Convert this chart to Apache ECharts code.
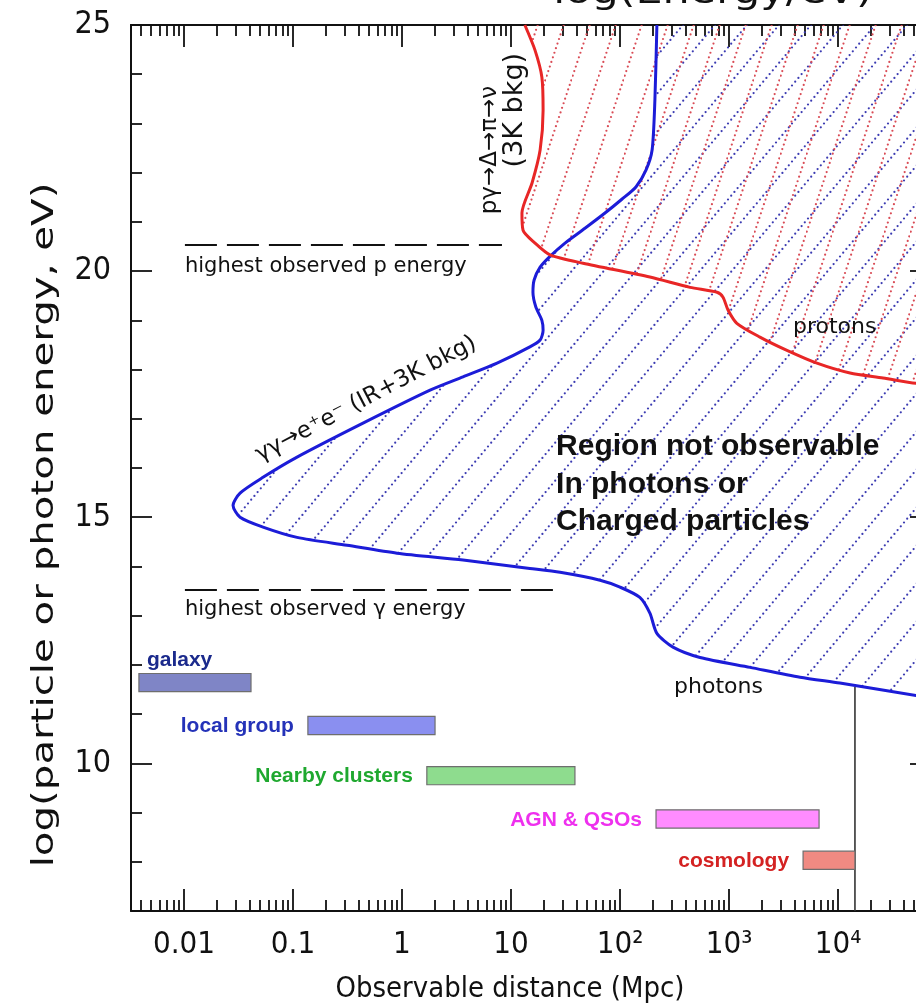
<!DOCTYPE html>
<html>
<head>
<meta charset="utf-8">
<title>Observable distance of photons and protons</title>
<script src="https://cdn.jsdelivr.net/npm/echarts@6.0.0/dist/echarts.min.js"></script>
<style>
  html, body { margin: 0; padding: 0; background: #fff; }
  #chart { width: 916px; height: 1007px; }
</style>
</head>
<body>
<div id="chart"></div>
<script>
// ---- data -----------------------------------------------------------------
// Photon horizon (γγ → e+e− on IR + 3K background): distance in Mpc, log10(E/eV)
const photonDist = [218, 209, 197, 173, 140, 104, 72.8, 47.7, 31.3, 22.8,
  18.5, 16.3, 15.9, 16.9, 19.2, 19.7, 18.5, 14.9, 7.45, 3.63,
  1.81, 0.439, 0.109, 0.0531, 0.0327, 0.0282, 0.0327, 0.0531, 0.109, 0.313,
  0.90, 3.63, 14.9, 28.2, 65.6, 100, 152, 188, 218, 306,
  542, 1560, 4480, 10400, 52000, 90000];
const photonLogE = [25, 23.48, 22.46, 22.05, 21.71, 21.46, 21.18, 20.87, 20.57, 20.30,
  20.08, 19.82, 19.57, 19.27, 19.0, 18.8, 18.6, 18.46, 18.13, 17.85,
  17.58, 16.91, 16.22, 15.81, 15.49, 15.24, 15.0, 14.8, 14.59, 14.43,
  14.27, 14.13, 13.96, 13.88, 13.72, 13.58, 13.37, 13.05, 12.64, 12.36,
  12.15, 11.95, 11.75, 11.63, 11.38, 11.3];

// Proton horizon (pγ → Δ → π → ν on the 3K background)
const protonDist = [13.4, 16.6, 19.2, 19.7, 18.5, 15.6, 12.6, 12.9, 16.6, 22.8,
  45.8, 188, 439, 776, 881, 979, 1180, 1920, 3400, 6410,
  12900, 25900, 52000, 90000];
const protonLogE = [25, 24.49, 23.94, 23.27, 22.46, 21.79, 21.18, 20.83, 20.57, 20.33,
  20.16, 19.88, 19.67, 19.57, 19.47, 19.21, 18.94, 18.66, 18.39, 18.13,
  17.93, 17.83, 17.72, 17.68];

// Scale of source classes (Mpc) and the energy row each bar sits on
const sourceNames = ['galaxy', 'local group', 'Nearby clusters', 'AGN & QSOs', 'cosmology'];
const sourceFrom = [0.00386, 0.137, 1.69, 214, 4780];
const sourceTo = [0.0412, 2.01, 38.6, 6700, 14300];
const sourceLogE = [11.64, 10.77, 9.75, 8.87, 8.03];

// Highest observed energies, with the distance span of their dashed markers
const protonMaxLogE = 20.53;
const protonMaxSpan = [0.0102, 8.26];
const gammaMaxLogE = 13.52;
const gammaMaxSpan = [0.0102, 25.4];

// Size of the observable universe and where that marker meets the photon curve
const horizonDist = 14300;
const horizonLogE = [7, 11.55];

// Axis ticks and labels
const xTickValues = [0.01, 0.1, 1, 10, 100, 1000, 10000];
const xTickLabels = ['0.01', '0.1', '1', '10', '10²', '10³', '10⁴'];
const yTickValues = [10, 15, 20, 25];
const yTickLabels = ['10', '15', '20', '25'];

// ---- styles ---------------------------------------------------------------
const sourceFill = ['#7f85c6', '#8a8ff0', '#8edc8e', '#ff8cff', '#f08a82'];
const sourceText = ['#1b2a8c', '#2432b8', '#1fa82f', '#ee30ee', '#d42222'];
const INK = '#111';
const PLAIN = '"DejaVu Sans", "Liberation Sans", sans-serif';
const BOLD = '"Liberation Sans", Arial, sans-serif';

// Free text annotations placed at (distance Mpc, log10 E)
const notes = [
  { text: 'highest observed p energy', at: [0.0102, 20.10], size: 21 },
  { text: 'highest observed γ energy', at: [0.0102, 13.13], size: 21 },
  { text: 'pγ→Δ→π→ν', at: [6.41, 22.46], size: 23, rotate: 90, align: 'center' },
  { text: '(3K bkg)', at: [10.9, 23.27], size: 27, rotate: 90, align: 'center' },
  { text: 'γγ→e⁺e⁻ (IR+3K bkg)', at: [0.468, 17.40], size: 23, rotate: 27.7, align: 'center' },
  { text: 'Region not observable\nIn photons or\nCharged particles', at: [25.9, 15.67],
    size: 30, bold: true, lineHeight: 37.5 },
  { text: 'protons', at: [3860, 18.86], size: 22 },
  { text: 'photons', at: [313, 11.54], size: 22 }
];

// ---- helpers --------------------------------------------------------------
const lg = Math.log10;
const X_MIN = -2.486, X_MAX = 4.853, Y_MIN = 7, Y_MAX = 25;

const xMinorValues = [];
for (let e = -3; e <= 4; e++) {
  for (let k = 2; k <= 9; k++) {
    const v = lg(k) + e;
    if (v > X_MIN && v < X_MAX) xMinorValues.push(v);
  }
}
const yMinorValues = [];
for (let v = Y_MIN + 1; v < Y_MAX; v++) if (v % 5) yMinorValues.push(v);

// Tile holding one dotted diagonal; repeated, it gives evenly spaced dotted hatching
function dottedDiagonal(w, h, n, color, r) {
  const c = document.createElement('canvas');
  c.width = w; c.height = h;
  const ctx = c.getContext('2d');
  ctx.fillStyle = color;
  for (let i = 0; i < n; i++) {
    const t = (i + 0.5) / n;
    ctx.beginPath();
    ctx.arc(t * w, h - t * h, r, 0, Math.PI * 2);
    ctx.fill();
  }
  return c;
}
const blueHatch = { image: dottedDiagonal(32, 38, 10, '#3b3bb2', 1.1), repeat: 'repeat' };
const redHatch = { image: dottedDiagonal(26, 78, 17, '#d94b55', 1.1), repeat: 'repeat' };

// Region beyond a horizon curve, closed along the right and top edges of the plot
function hatchRegion(dist, logE, fill) {
  return function (params, api) {
    const pts = dist.map((d, i) => api.coord([lg(d), logE[i]]));
    const cs = params.coordSys;
    const first = pts[0], last = pts[pts.length - 1];
    const right = cs.x + cs.width + 60, top = cs.y - 60;
    pts.push([right, last[1]], [right, top], [first[0], top]);
    return {
      type: 'polygon', silent: true,
      shape: { points: pts, smooth: 0.25 },
      style: { fill: fill, stroke: null }
    };
  };
}

function pairs(dist, logE) {
  return dist.map((d, i) => [lg(d), logE[i]]);
}

function xAxisDef(position, ticks, len, labels) {
  return {
    type: 'value', position: position, min: X_MIN, max: X_MAX,
    axisLine: { show: !!labels || position === 'top', onZero: false, lineStyle: { color: INK, width: 2 } },
    axisTick: { show: true, inside: true, length: len, customValues: ticks,
      lineStyle: { color: INK, width: 1.8 } },
    axisLabel: labels ? {
      show: true, customValues: xTickValues.map(lg), margin: 18,
      color: INK, fontSize: 31, fontFamily: '"DejaVu Sans Condensed", "DejaVu Sans", sans-serif',
      formatter: function (v) {
        const i = xTickValues.findIndex(t => Math.abs(lg(t) - v) < 1e-6);
        return i >= 0 ? xTickLabels[i] : '';
      }
    } : { show: false },
    splitLine: { show: false }
  };
}

function yAxisDef(position, ticks, len, labels) {
  return {
    type: 'value', position: position, min: Y_MIN, max: Y_MAX,
    axisLine: { show: !!labels || position === 'right', onZero: false, lineStyle: { color: INK, width: 2 } },
    axisTick: { show: true, inside: true, length: len, customValues: ticks,
      lineStyle: { color: INK, width: 1.8 } },
    axisLabel: labels ? {
      show: true, customValues: yTickValues, margin: 20,
      color: INK, fontSize: 32, fontFamily: '"DejaVu Sans Condensed", "DejaVu Sans", sans-serif',
      formatter: function (v) {
        const i = yTickValues.indexOf(v);
        return i >= 0 ? yTickLabels[i] : '';
      }
    } : { show: false },
    splitLine: { show: false }
  };
}

function straight(name, data, color, width, type) {
  return {
    type: 'line', name: name, data: data, symbol: 'none', silent: true, z: 3,
    lineStyle: { color: color, width: width, type: type || 'solid' },
    animation: false
  };
}

// ---- chart ----------------------------------------------------------------
const chart = echarts.init(document.getElementById('chart'), null, { renderer: 'canvas' });

chart.setOption({
  animation: false,
  backgroundColor: '#fff',
  grid: { left: 131, top: 25, width: 800, height: 886, containLabel: false, outerBoundsMode: 'none' },
  xAxis: [
    xAxisDef('bottom', xTickValues.map(lg), 22, true),
    xAxisDef('bottom', xMinorValues, 11, false),
    xAxisDef('top', xTickValues.map(lg), 22, false),
    xAxisDef('top', xMinorValues, 11, false)
  ],
  yAxis: [
    yAxisDef('left', yTickValues, 21, true),
    yAxisDef('left', yMinorValues, 11, false),
    yAxisDef('right', yTickValues, 21, false),
    yAxisDef('right', yMinorValues, 11, false)
  ],
  graphic: [
    { type: 'text', x: 45, y: 525, rotation: Math.PI / 2, scaleX: 1.3, silent: true,
      style: { text: 'log(particle or photon energy, eV)', font: '31px ' + PLAIN, fill: INK,
        align: 'center', verticalAlign: 'middle' } },
    { type: 'text', x: 510, y: 990, scaleX: 0.93, silent: true,
      style: { text: 'Observable distance (Mpc)', font: '28px ' + PLAIN, fill: INK,
        align: 'center', verticalAlign: 'middle' } },
    { type: 'text', x: 713, y: -6, scaleX: 1.3, silent: true,
      style: { text: 'log(Energy/eV)', font: '33px ' + PLAIN, fill: INK,
        align: 'center', verticalAlign: 'middle' } }
  ],
  series: [
    {
      type: 'custom', name: 'photon region', clip: true, silent: true, z: 1,
      data: [[X_MIN, Y_MIN]],
      renderItem: hatchRegion(photonDist, photonLogE, blueHatch)
    },
    {
      type: 'custom', name: 'proton region', clip: true, silent: true, z: 1,
      data: [[X_MIN, Y_MIN]],
      renderItem: hatchRegion(protonDist, protonLogE, redHatch)
    },
    Object.assign(straight('photons', pairs(photonDist, photonLogE), '#1c1cd8', 3), { smooth: 0.25, z: 5 }),
    Object.assign(straight('protons', pairs(protonDist, protonLogE), '#e82626', 3), { smooth: 0.25, z: 5 }),
    straight('highest p', protonMaxSpan.map(d => [lg(d), protonMaxLogE]), INK, 2, [32, 10]),
    straight('highest gamma', gammaMaxSpan.map(d => [lg(d), gammaMaxLogE]), INK, 2, [32, 10]),
    straight('horizon', horizonLogE.map(e => [lg(horizonDist), e]), '#333', 1.6),
    {
      type: 'custom', name: 'sources', clip: false, silent: true, z: 4,
      data: sourceNames.map((n, i) => [lg(sourceFrom[i]), lg(sourceTo[i]), sourceLogE[i]]),
      encode: { x: [0, 1], y: 2 },
      renderItem: function (params, api) {
        const i = params.dataIndex;
        const a = api.coord([api.value(0), api.value(2)]);
        const b = api.coord([api.value(1), api.value(2)]);
        const h = api.size([0, 0.37])[1];
        const lab = i === 0
          ? { x: a[0] + 8, y: a[1] - 22, align: 'left' }
          : { x: a[0] - 14, y: a[1] + 1, align: 'right' };
        return {
          type: 'group',
          children: [
            { type: 'rect', shape: { x: a[0], y: a[1] - h / 2, width: b[0] - a[0], height: h },
              style: { fill: sourceFill[i], stroke: '#6e6e6e', lineWidth: 1.2 } },
            { type: 'text', x: lab.x, y: lab.y,
              style: { text: sourceNames[i], fill: sourceText[i], font: 'bold 21px ' + BOLD,
                align: lab.align, verticalAlign: 'middle' } }
          ]
        };
      }
    },
    {
      type: 'custom', name: 'notes', clip: false, silent: true, z: 6,
      data: notes.map((n, i) => [lg(n.at[0]), n.at[1], i]),
      renderItem: function (params, api) {
        const n = notes[params.dataIndex];
        const p = api.coord([api.value(0), api.value(1)]);
        return {
          type: 'text', x: p[0], y: p[1],
          rotation: (n.rotate || 0) * Math.PI / 180,
          style: {
            text: n.text, fill: INK,
            font: (n.bold ? 'bold ' : '') + n.size + 'px ' + (n.bold ? BOLD : PLAIN),
            align: n.align || 'left', verticalAlign: 'middle',
            lineHeight: n.lineHeight
          }
        };
      }
    }
  ]
});
</script>
</body>
</html>
